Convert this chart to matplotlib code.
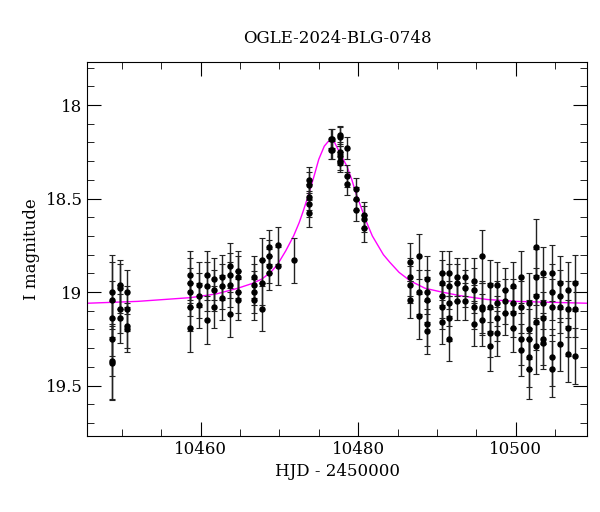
import numpy as np
import matplotlib
matplotlib.use("Agg")
import matplotlib.pyplot as plt
from matplotlib.ticker import MultipleLocator

# observation epochs (HJD - 2450000), magnitudes per epoch, and error per epoch
GROUP_T = [10448.7, 10449.7, 10450.7, 10458.7, 10459.8, 10460.8, 10461.7, 10462.7,
           10463.7, 10464.7, 10466.8, 10467.8, 10468.7, 10469.8, 10471.8, 10473.7,
           10476.7, 10477.7, 10476.6, 10477.7, 10478.6, 10479.7, 10480.7,
           10486.6, 10487.7, 10488.7, 10490.6, 10491.6, 10492.6, 10493.6, 10494.7,
           10495.7, 10496.7, 10497.6, 10498.7, 10499.7, 10500.7, 10501.7, 10502.6,
           10503.5, 10504.6, 10505.6, 10506.6, 10507.6]
GROUP_MAG = [
    [19.00, 19.04, 19.14, 19.25, 19.37, 19.38],
    [18.96, 18.98, 19.09, 19.14],
    [19.00, 19.09, 19.18, 19.20],
    [18.91, 18.95, 19.00, 19.08, 19.19],
    [18.96, 19.02, 19.07],
    [18.91, 18.97, 19.15],
    [18.93, 18.99, 19.08],
    [18.92, 18.97, 19.03],
    [18.86, 18.91, 18.96, 19.12],
    [18.89, 18.92, 19.00, 19.04],
    [18.92, 18.96, 19.00, 19.04],
    [18.83, 18.95, 19.09],
    [18.76, 18.81, 18.86, 18.90],
    [18.75, 18.86],
    [18.83],
    [18.40, 18.43, 18.49, 18.53, 18.58],
    [18.18, 18.24],
    [18.17, 18.25, 18.30],
    [18.18, 18.24],
    [18.16, 18.27, 18.31],
    [18.23, 18.38, 18.42],
    [18.45, 18.50, 18.56],
    [18.59, 18.61, 18.66],
    [18.84, 18.92, 18.96, 19.04],
    [18.81, 19.00, 19.13],
    [18.93, 19.00, 19.04, 19.17, 19.21],
    [18.90, 18.95, 19.02, 19.08, 19.16],
    [18.90, 18.97, 19.06, 19.14, 19.25],
    [18.92, 18.95, 19.05],
    [18.92, 18.98, 19.05],
    [18.94, 18.99, 19.08, 19.17],
    [18.81, 19.08, 19.09, 19.15],
    [18.96, 19.08, 19.22, 19.29],
    [18.96, 19.06, 19.14, 19.22],
    [18.99, 19.05, 19.11],
    [18.97, 19.06, 19.11, 19.19],
    [18.92, 19.08, 19.25, 19.31],
    [19.06, 19.20, 19.25, 19.35, 19.41],
    [18.76, 18.92, 19.02, 19.16, 19.29],
    [18.90, 19.06, 19.14, 19.25, 19.27],
    [18.90, 19.00, 19.08, 19.35, 19.41],
    [18.95, 19.02, 19.08, 19.28],
    [18.99, 19.09, 19.19, 19.33],
    [18.95, 19.09, 19.34],
]
GROUP_ERR = [0.2, 0.13, 0.12, 0.13, 0.12, 0.13, 0.11, 0.12, 0.12, 0.11, 0.11, 0.12,
             0.09, 0.1, 0.12, 0.07, 0.05, 0.05, 0.05, 0.05, 0.06, 0.06, 0.07,
             0.1, 0.12, 0.12, 0.12, 0.12, 0.1, 0.1, 0.12, 0.14, 0.13, 0.12, 0.12,
             0.13, 0.14, 0.16, 0.15, 0.14, 0.15, 0.14, 0.15, 0.15]

# fitted model
MODEL_T = [10445.6, 10452.0, 10458.7, 10462.0, 10464.7, 10466.5, 10467.8, 10469.0,
           10469.8, 10470.8, 10471.8, 10472.5, 10473.0, 10473.7, 10474.4, 10475.0,
           10475.7, 10476.2, 10476.6, 10477.0, 10477.6, 10478.1, 10478.6, 10479.2,
           10479.7, 10480.4, 10481.1, 10481.8, 10482.5, 10483.2, 10484.0, 10485.2,
           10486.6, 10488.5, 10490.6, 10493.0, 10496.4, 10500.0, 10509.1]
MODEL_MAG = [19.06, 19.05, 19.03, 19.01, 18.98, 18.955, 18.93, 18.89,
             18.85, 18.78, 18.70, 18.63, 18.57, 18.48, 18.38, 18.29,
             18.22, 18.195, 18.19, 18.20, 18.25, 18.29, 18.33, 18.40,
             18.47, 18.55, 18.63, 18.70, 18.75, 18.80, 18.84, 18.895,
             18.94, 18.98, 19.00, 19.02, 19.04, 19.05, 19.06]

plt.rcParams["font.family"] = "DejaVu Serif"
fig = plt.figure(figsize=(6, 5.12), dpi=100)
ax = fig.add_axes([0.1455, 0.1484, 0.8333, 0.7305])

ax.plot(MODEL_T, MODEL_MAG, color="#ff00ff", lw=1.0, zorder=1)
for t, mags, e in zip(GROUP_T, GROUP_MAG, GROUP_ERR):
    ax.errorbar([t] * len(mags), mags, yerr=e, fmt="o", color="black", ms=3.6,
                ecolor="#222222", elinewidth=1.0, capsize=2.5, capthick=0.8, zorder=2)

ax.set_xlim(10445.6, 10509.1)
ax.set_ylim(19.77, 17.77)
ax.xaxis.set_major_locator(MultipleLocator(20))
ax.xaxis.set_minor_locator(MultipleLocator(5))
ax.yaxis.set_major_locator(MultipleLocator(0.5))
ax.yaxis.set_minor_locator(MultipleLocator(0.1))
ax.yaxis.set_major_formatter(matplotlib.ticker.FuncFormatter(lambda v, p: f"{v:g}"))
ax.tick_params(which="both", direction="in", top=True, right=True, labelsize=12)
ax.tick_params(which="major", length=10)
ax.tick_params(which="minor", length=5)
ax.set_xlabel("HJD - 2450000", fontsize=12)
ax.set_ylabel("I magnitude", fontsize=12)
ax.set_title("OGLE-2024-BLG-0748", fontsize=12, pad=14)

fig.savefig("out.png", dpi=100, facecolor="white")
